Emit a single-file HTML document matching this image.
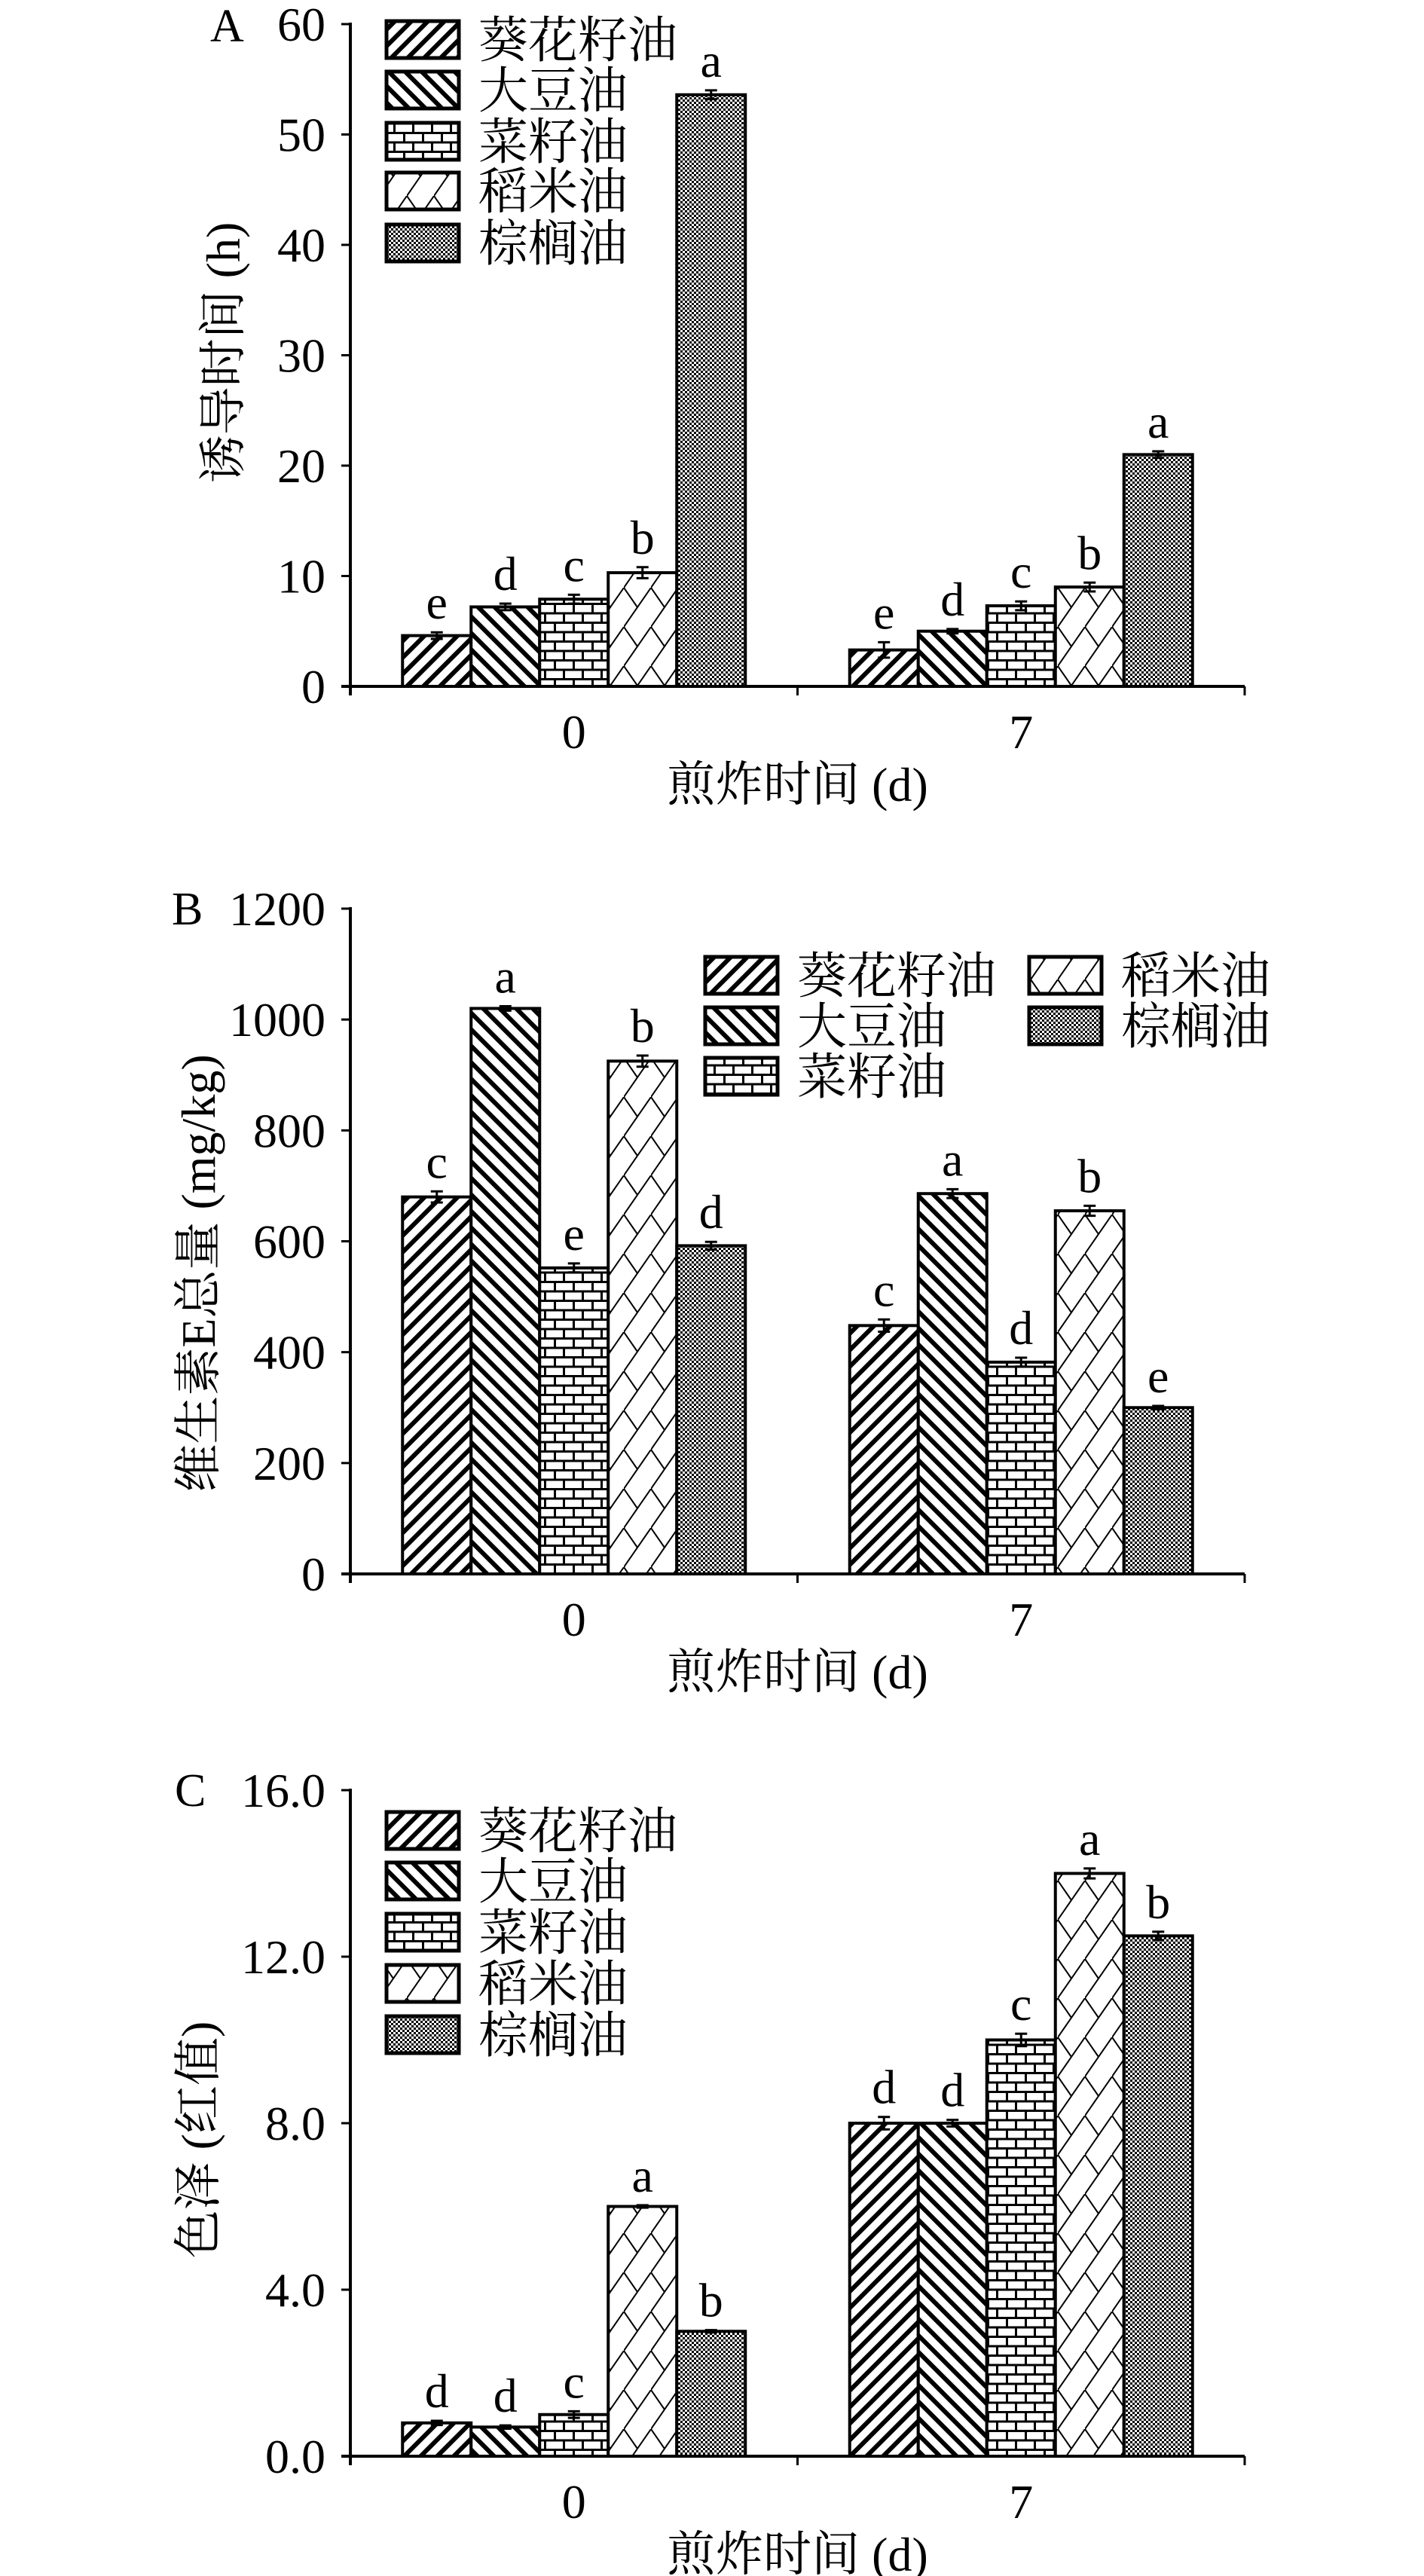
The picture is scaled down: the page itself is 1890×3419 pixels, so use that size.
<!DOCTYPE html>
<html><head><meta charset="utf-8">
<style>
html,body{margin:0;padding:0;background:#fff;}
svg{display:block;}
text{font-family:"Liberation Serif","Noto Serif CJK SC","Noto Sans CJK SC",serif;fill:#000;}
</style></head>
<body>
<svg id="fig" width="1890" height="3419" viewBox="0 0 1890 3419" xmlns="http://www.w3.org/2000/svg">
<defs>
<pattern id="p-sun" patternUnits="userSpaceOnUse" width="15.5" height="15.5" patternTransform="rotate(45)">
<rect width="15.5" height="15.5" fill="#fff"/><rect width="6" height="15.5" fill="#000"/></pattern>
<pattern id="p-soy" patternUnits="userSpaceOnUse" width="15.5" height="15.5" patternTransform="rotate(-45)">
<rect width="15.5" height="15.5" fill="#fff"/><rect width="6" height="15.5" fill="#000"/></pattern>
<pattern id="p-rape" patternUnits="userSpaceOnUse" width="50" height="25">
<rect width="50" height="25" fill="#fff"/>
<rect y="0" width="50" height="3" fill="#000"/><rect y="12.5" width="50" height="3" fill="#000"/>
<rect x="10" y="0" width="3" height="12.5" fill="#000"/><rect x="35" y="0" width="3" height="12.5" fill="#000"/>
<rect x="22" y="12.5" width="3" height="12.5" fill="#000"/><rect x="47" y="12.5" width="3" height="12.5" fill="#000"/></pattern>
<pattern id="p-rice" patternUnits="userSpaceOnUse" width="36" height="52">
<rect width="36" height="52" fill="#fff"/>
<path d="M0 52 L36 0 M0 0 L18 26" stroke="#000" stroke-width="2" fill="none"/></pattern>
<pattern id="p-palm" patternUnits="userSpaceOnUse" width="6" height="6">
<rect width="6" height="6" fill="#fff"/><rect width="3" height="3" fill="#000"/><rect x="3" y="3" width="3" height="3" fill="#000"/></pattern>
</defs>
</svg>
<script>
// ---- data ----
const seriesNames = ["葵花籽油","大豆油","菜籽油","稻米油","棕榈油"];
const categories = ["0","7"];
// Panel A: induction time (h)
const aDay0 = [4.6, 7.2, 7.9, 10.3, 53.6];
const aDay7 = [3.3, 5.0, 7.3, 9.0, 21.0];
const aErr0 = [0.3, 0.3, 0.4, 0.5, 0.4];
const aErr7 = [0.7, 0.2, 0.4, 0.4, 0.3];
const aSig0 = ["e","d","c","b","a"];
const aSig7 = ["e","d","c","b","a"];
const aTicks = [0,10,20,30,40,50,60];
// Panel B: total vitamin E (mg/kg)
const bDay0 = [680, 1020, 552, 925, 592];
const bDay7 = [448, 686, 382, 655, 300];
const bErr0 = [10, 4, 8, 10, 7];
const bErr7 = [11, 8, 8, 9, 3];
const bSig0 = ["c","a","e","b","d"];
const bSig7 = ["c","a","d","b","e"];
const bTicks = [0,200,400,600,800,1000,1200];
// Panel C: colour (red value)
const cDay0 = [0.8, 0.7, 1.0, 6.0, 3.0];
const cDay7 = [8.0, 8.0, 10.0, 14.0, 12.5];
const cErr0 = [0.05, 0.04, 0.08, 0.03, 0.03];
const cErr7 = [0.15, 0.08, 0.15, 0.12, 0.1];
const cSig0 = ["d","d","c","a","b"];
const cSig7 = ["d","d","c","a","b"];
const cTicks = [0,4,8,12,16];

const fills = ["url(#p-sun)","url(#p-soy)","url(#p-rape)","url(#p-rice)","url(#p-palm)"];
const NS = "http://www.w3.org/2000/svg";
const svg = document.getElementById("fig");
function mk(tag, attrs, parent){
  const e = document.createElementNS(NS, tag);
  for (const k in attrs) e.setAttribute(k, attrs[k]);
  (parent||svg).appendChild(e);
  return e;
}
const X0 = 465, X1 = 1652, BW = 91;

function panel(cfg){
  const g = mk("g", {});
  
  
  const y = v => cfg.zeroY - (v - 0) / cfg.max * (cfg.zeroY - cfg.topY);
  const catW = (X1 - X0) / categories.length;
  const cx = i => X0 + catW * (i + 0.5);
  const ya = mk("line", {x1:X0, y1:cfg.topY-2, x2:X0, y2:cfg.zeroY+12, stroke:"#000","stroke-width":4}, g);
  
  
  const xa = mk("line", {x1:X0-12, y1:cfg.zeroY, x2:X1, y2:cfg.zeroY, stroke:"#000","stroke-width":4}, g);
  
  
  for (let i = 1; i <= categories.length; i++){
    const t = mk("line", {x1:X0+catW*i, y1:cfg.zeroY, x2:X0+catW*i, y2:cfg.zeroY+12, stroke:"#000","stroke-width":3}, g);
    
    
  }
  cfg.ticks.forEach(v => {
    const t = mk("line", {x1:X0-12, y1:y(v), x2:X0, y2:y(v), stroke:"#000","stroke-width":3}, g);
    
    
    const l = mk("text", {x:432, y:y(v)+22, "text-anchor":"end","font-size":64}, g);
    l.textContent = cfg.fmt(v);
    
    
  });
  [cfg.d0, cfg.d7].forEach((vals, ci) => {
    const errs = ci ? cfg.e7 : cfg.e0;
    const sig = ci ? cfg.s7 : cfg.s0;
    vals.forEach((v, si) => {
      const bx = cx(ci) - 2.5*BW + si*BW;
      const r = mk("rect", {x:bx, y:y(v), width:BW, height:cfg.zeroY - y(v), fill:fills[si], stroke:"#000","stroke-width":4}, g);
      
      
      const mx = bx + BW/2, yt = y(v + errs[si]), yb = y(v - errs[si]);
      const eb = mk("path", {d:`M${mx-8} ${yt} H${mx+8} M${mx} ${yt} V${yb} M${mx-8} ${yb} H${mx+8}`, stroke:"#000","stroke-width":3, fill:"none"}, g);
      
      
      const st = mk("text", {x:mx, y:yt-18, "text-anchor":"middle","font-size":64}, g);
      st.textContent = sig[si];
      
      
    });
    const cl = mk("text", {x:cx(ci), y:cfg.zeroY+82, "text-anchor":"middle","font-size":64}, g);
    cl.textContent = categories[ci];
    
    
  });
  const xt = mk("text", {x:(X0+X1)/2, y:cfg.zeroY+152, "text-anchor":"middle","font-size":64}, g);
  xt.textContent = "煎炸时间 (d)";
  
  
  const yt = mk("text", {x:0, y:0, "text-anchor":"middle","font-size":64, transform:`translate(${cfg.ytX},${cfg.ytY}) rotate(-90)`}, g);
  yt.textContent = cfg.ytitle;
  
  
  const pl = mk("text", {x:cfg.lx, y:cfg.ly, "font-size":62}, g);
  pl.textContent = cfg.letter;
  
  
  cfg.leg.forEach((p, si) => {
    const lg = mk("g", {}, g);
    
    
    mk("rect", {x:p[0], y:p[1], width:96, height:49, fill:fills[si], stroke:"#000","stroke-width":5}, lg);
    const t = mk("text", {x:p[0]+122, y:p[1]+48, "font-size":66}, lg);
    t.textContent = seriesNames[si];
  });
}

panel({name:"panel-a", letter:"A", lx:279, ly:55, topY:32, zeroY:911, max:60, ticks:aTicks, fmt:v=>String(v),
  d0:aDay0, d7:aDay7, e0:aErr0, e7:aErr7, s0:aSig0, s7:aSig7,
  ytitle:"诱导时间 (h)", ytX:318, ytY:468,
  leg:[[513,28],[513,95],[513,163],[513,229],[513,298]]});
panel({name:"panel-b", letter:"B", lx:228, ly:1227, topY:1206, zeroY:2089, max:1200, ticks:bTicks, fmt:v=>String(v),
  d0:bDay0, d7:bDay7, e0:bErr0, e7:bErr7, s0:bSig0, s7:bSig7,
  ytitle:"维生素E总量 (mg/kg)", ytX:285, ytY:1690,
  leg:[[936,1270],[936,1337],[936,1404],[1366,1270],[1366,1337]]});
panel({name:"panel-c", letter:"C", lx:232, ly:2397, topY:2376, zeroY:3260, max:16, ticks:cTicks, fmt:v=>v.toFixed(1),
  d0:cDay0, d7:cDay7, e0:cErr0, e7:cErr7, s0:cSig0, s7:cSig7,
  ytitle:"色泽 (红值)", ytX:285, ytY:2840,
  leg:[[513,2405],[513,2472],[513,2540],[513,2608],[513,2676]]});
</script>
</body></html>
